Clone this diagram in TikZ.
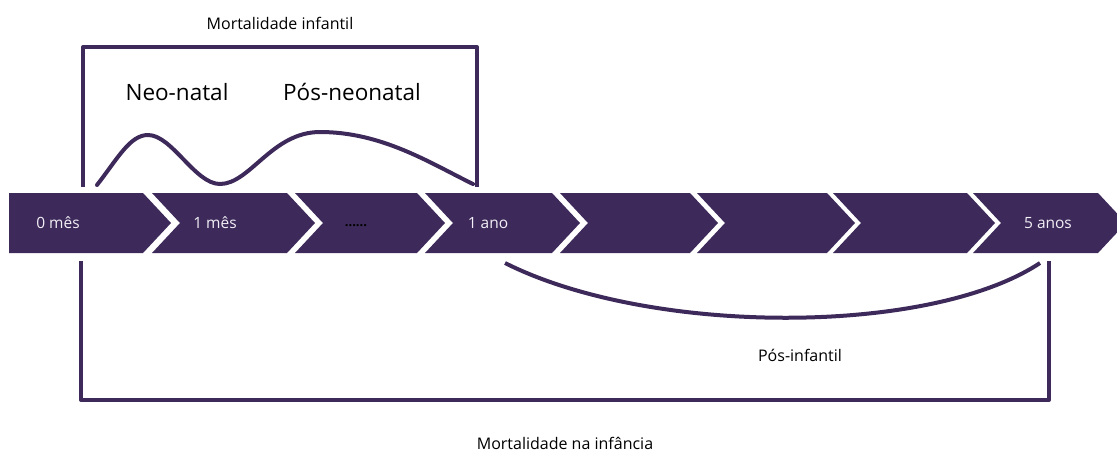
\documentclass[tikz,border=0pt]{standalone}
\usepackage{fontspec}
\setmainfont{Open Sans}
\definecolor{plum}{HTML}{3D2A5A}
\definecolor{lbl}{HTML}{F2EFF6}
\tikzset{
  chev/.style={fill=plum, draw=none},
  bracketline/.style={draw=plum, line width=4pt, line join=round, line cap=butt},
  curveline/.style={draw=plum, line width=4pt, line cap=round},
  chevlabel/.style={text=lbl, font=\fontsize{15.5}{18}\selectfont, inner sep=0pt, anchor=center},
  smalltext/.style={text=black, font=\fontsize{16}{19}\selectfont, inner sep=0pt, anchor=center},
  bigtext/.style={text=black, font=\fontsize{22.5}{26}\selectfont, inner sep=0pt, anchor=center}
}
\begin{document}
\begin{tikzpicture}[x=1pt,y=-1pt]
\useasboundingbox (0,0) rectangle (1117,451);
\clip (0,0) rectangle (1117,451);
% chevron band
\fill[chev] (9,193) -- (143,193) -- (171,223) -- (143,253) -- (9,253) -- cycle;
\foreach \l/\r in {152/287, 295/417, 425/552, 560/690, 697/827, 833/967, 973/1098} {
  \fill[chev] (\l,193) -- (\r,193) -- (\r+28,223) -- (\r,253) -- (\l,253) -- (\l+28,223) -- cycle;
}
% chevron labels
\node[chevlabel] (c0) at (58,223) {0 mês};
\node[chevlabel] (c1) at (215,223) {1 mês};
\node[text=black, font=\fontsize{13}{15}\bfseries, inner sep=0pt] (cdots) at (356,226) {......};
\node[chevlabel] (c2) at (488,223) {1 ano};
\node[chevlabel] (c5) at (1048,223) {5 anos};
% top bracket
\coordinate (tl) at (83,187);
\coordinate (tr) at (477,187);
\draw[bracketline] (tl) -- (83,47) -- (477,47) -- (tr);
% wave
\coordinate (w0) at (97,185);
\coordinate (w1) at (148,135);
\coordinate (w2) at (220,184);
\coordinate (w3) at (320,132);
\coordinate (w4) at (473,184);
\draw[curveline] (w0) .. controls (118,158) and (130,135) .. (w1)
  .. controls (172,135) and (195,184) .. (w2)
  .. controls (250,184) and (272,132) .. (w3)
  .. controls (382,132) and (430,163) .. (w4);
% bottom bracket
\coordinate (bl) at (81,261);
\coordinate (br) at (1049,261);
\draw[bracketline] (bl) -- (81,400) -- (1049,400) -- (br);
% bottom arc
\coordinate (a0) at (505,263);
\coordinate (a1) at (1040,263);
\draw[curveline, line cap=butt] (a0) .. controls (650,336) and (930,336) .. (a1);
% texts
\node[smalltext] (mi) at (280,23) {Mortalidade infantil};
\node[bigtext] (nn) at (177,92) {Neo-natal};
\node[bigtext] (pn) at (352,92) {Pós-neonatal};
\node[smalltext] (pi) at (800,355) {Pós-infantil};
\node[smalltext] (mn) at (565,443) {Mortalidade na infância};
\end{tikzpicture}
\end{document}
